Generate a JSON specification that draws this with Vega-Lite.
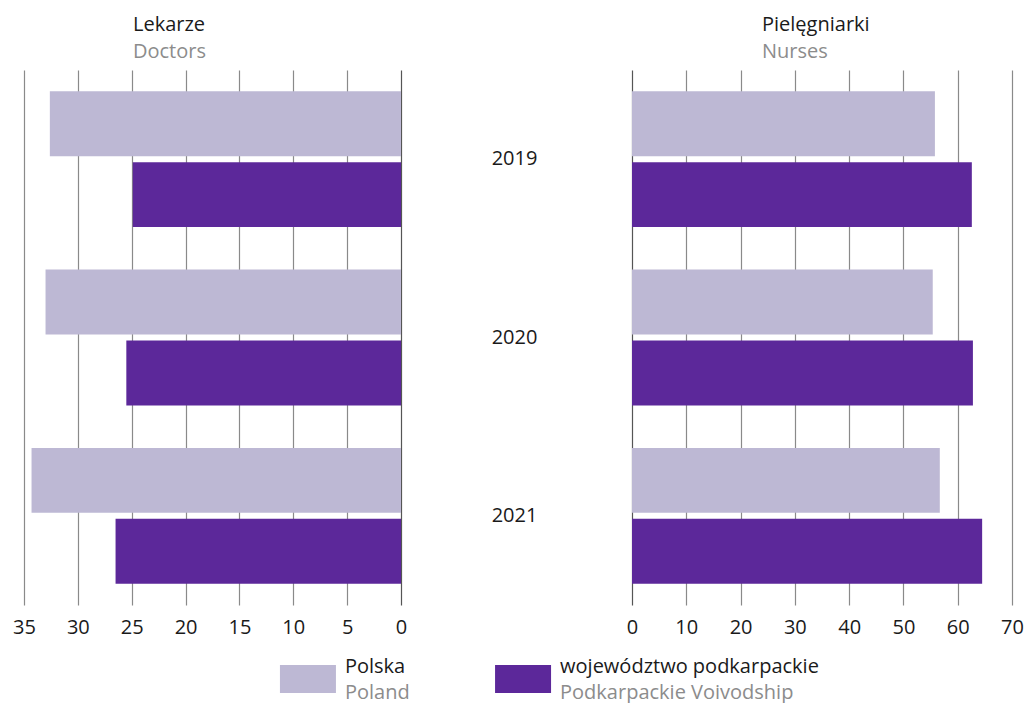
{
  "$schema": "https://vega.github.io/schema/vega-lite/v6.json",
  "padding": {"left": 12, "top": 15, "right": 0, "bottom": 0},
  "background": "white",
  "config": {
    "font": "Open Sans",
    "view": {"stroke": null},
    "title": {"fontWeight": "normal", "fontSize": 20, "color": "#1a1a1a", "subtitleFontSize": 20, "subtitleColor": "#8c8c8c", "anchor": "start", "frame": "group", "subtitlePadding": 7, "offset": 8},
    "axis": {"labelFontSize": 20, "labelColor": "#1a1a1a", "labelFont": "Open Sans", "domain": false, "ticks": false, "title": null, "labelFlush": false}
  },
  "datasets": {
    "main": [
      {"measure": "Lekarze", "year": "2019", "series": "Polska", "value": 32.6},
      {"measure": "Lekarze", "year": "2019", "series": "podkarpackie", "value": 24.9},
      {"measure": "Lekarze", "year": "2020", "series": "Polska", "value": 33.0},
      {"measure": "Lekarze", "year": "2020", "series": "podkarpackie", "value": 25.5},
      {"measure": "Lekarze", "year": "2021", "series": "Polska", "value": 34.3},
      {"measure": "Lekarze", "year": "2021", "series": "podkarpackie", "value": 26.5},
      {"measure": "Pielęgniarki", "year": "2019", "series": "Polska", "value": 55.8},
      {"measure": "Pielęgniarki", "year": "2019", "series": "podkarpackie", "value": 62.6},
      {"measure": "Pielęgniarki", "year": "2020", "series": "Polska", "value": 55.4},
      {"measure": "Pielęgniarki", "year": "2020", "series": "podkarpackie", "value": 62.8},
      {"measure": "Pielęgniarki", "year": "2021", "series": "Polska", "value": 56.7},
      {"measure": "Pielęgniarki", "year": "2021", "series": "podkarpackie", "value": 64.5}
    ],
    "legend": [
      {"series": "Polska", "label": "Polska", "sub": "Poland"},
      {"series": "podkarpackie", "label": "województwo podkarpackie", "sub": "Podkarpackie Voivodship"}
    ]
  },
  "bounds": "full",
  "spacing": 20,
  "vconcat": [
    {
      "bounds": "flush",
      "spacing": 231,
      "hconcat": [
        {
          "width": 377,
          "height": 535,
          "data": {"name": "main"},
          "transform": [{"filter": "datum.measure === 'Lekarze'"}],
          "title": {"text": "Lekarze", "subtitle": "Doctors", "dx": 109},
          "mark": {"type": "bar"},
          "encoding": {
            "y": {"field": "year", "type": "nominal", "scale": {"paddingInner": 0, "paddingOuter": 0}, "axis": null},
            "yOffset": {"field": "series", "type": "nominal", "scale": {"domain": ["Polska", "podkarpackie"], "paddingInner": 0.085, "paddingOuter": 0.3}},
            "x": {"field": "value", "type": "quantitative",
                  "scale": {"domain": [0, 35], "reverse": true, "nice": false, "zero": true},
                  "axis": {"values": [0, 5, 10, 15, 20, 25, 30, 35], "grid": true,
                           "gridColor": {"condition": {"test": "datum.value === 0", "value": "#555555"}, "value": "#8a8a8a"},
                           "gridWidth": 1.2, "labelPadding": 12}},
            "color": {"field": "series", "type": "nominal", "scale": {"domain": ["Polska", "podkarpackie"], "range": ["#bdb8d4", "#5c289a"]}, "legend": null}
          }
        },
        {
          "width": 380,
          "height": 535,
          "data": {"name": "main"},
          "transform": [{"filter": "datum.measure === 'Pielęgniarki'"}],
          "title": {"text": "Pielęgniarki", "subtitle": "Nurses", "dx": 130},
          "mark": {"type": "bar"},
          "encoding": {
            "y": {"field": "year", "type": "nominal", "scale": {"paddingInner": 0, "paddingOuter": 0},
                  "axis": {"orient": "left", "labelAlign": "center", "labelPadding": 118, "labelBaseline": "middle"}},
            "yOffset": {"field": "series", "type": "nominal", "scale": {"domain": ["Polska", "podkarpackie"], "paddingInner": 0.085, "paddingOuter": 0.3}},
            "x": {"field": "value", "type": "quantitative",
                  "scale": {"domain": [0, 70], "nice": false, "zero": true},
                  "axis": {"values": [0, 10, 20, 30, 40, 50, 60, 70], "grid": true,
                           "gridColor": {"condition": {"test": "datum.value === 0", "value": "#555555"}, "value": "#8a8a8a"},
                           "gridWidth": 1.2, "labelPadding": 12}},
            "color": {"field": "series", "type": "nominal", "scale": {"domain": ["Polska", "podkarpackie"], "range": ["#bdb8d4", "#5c289a"]}, "legend": null}
          }
        }
      ]
    },
    {
      "width": 783,
      "height": 28,
      "data": {"name": "legend"},
      "encoding": {
        "x": {"field": "series", "type": "nominal", "sort": ["Polska", "podkarpackie"],
              "scale": {"paddingInner": 0, "paddingOuter": 0.82}, "axis": null}
      },
      "layer": [
        {
          "mark": {"type": "bar", "width": 56},
          "encoding": {
            "color": {"field": "series", "type": "nominal", "scale": {"domain": ["Polska", "podkarpackie"], "range": ["#bdb8d4", "#5c289a"]}, "legend": null}
          }
        },
        {
          "mark": {"type": "text", "align": "left", "baseline": "alphabetic", "dx": 37, "dy": -6, "fontSize": 20, "color": "#1a1a1a"},
          "encoding": {"text": {"field": "label"}}
        },
        {
          "mark": {"type": "text", "align": "left", "baseline": "alphabetic", "dx": 37, "dy": 20, "fontSize": 20, "color": "#8c8c8c"},
          "encoding": {"text": {"field": "sub"}}
        }
      ]
    }
  ]
}
